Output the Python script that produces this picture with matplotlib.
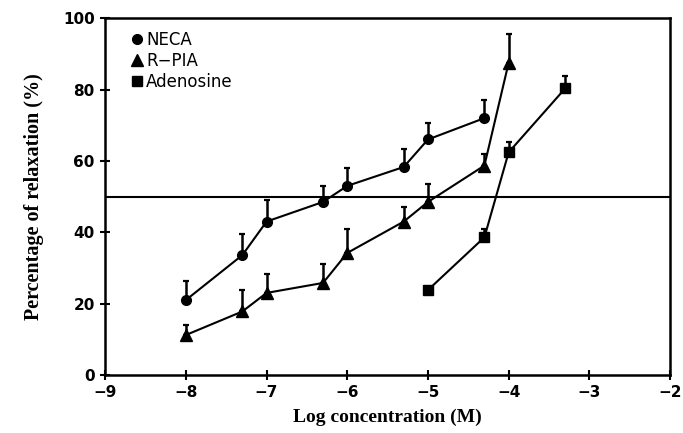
import numpy as np
import matplotlib
matplotlib.use("Agg")
import matplotlib.pyplot as plt

# data
neca_x = [-8, -7.3, -7, -6.3, -6, -5.3, -5, -4.3]
neca_y = [21, 33.6, 43, 48.5, 53, 58.3, 66, 72]
neca_err = [5.3, 5.8, 6, 4.5, 5, 5, 4.5, 5]

rpia_x = [-8, -7.3, -7, -6.3, -6, -5.3, -5, -4.3, -4]
rpia_y = [11.2, 17.8, 23, 25.8, 34.2, 43, 48.5, 58.7, 87.5]
rpia_err = [2.8, 6, 5.3, 5.2, 6.6, 4, 5, 3.3, 8]

aden_x = [-5, -4.3, -4, -3.3]
aden_y = [23.8, 38.6, 62.4, 80.3]
aden_err = [0, 2.4, 2.8, 3.6]

fig = plt.figure(figsize=(6.83, 4.33), dpi=100)
ax = fig.add_axes([0.154, 0.134, 0.827, 0.824])

def plot_series(x, y, err, marker, ms, label):
    low = np.zeros(len(err))
    ax.errorbar(x, y, yerr=[low, err], fmt='none', ecolor='black',
                elinewidth=1.8, capsize=2.5, capthick=1.6, zorder=2)
    ax.plot(x, y, color='black', lw=1.5, marker=marker, ms=ms,
            markerfacecolor='black', markeredgecolor='black', zorder=3,
            label=label)

plot_series(neca_x, neca_y, neca_err, 'o', 7, 'NECA')
plot_series(rpia_x, rpia_y, rpia_err, '^', 8, 'R\u2212PIA')
plot_series(aden_x, aden_y, aden_err, 's', 6.5, 'Adenosine')

ax.axhline(50, color='black', lw=1.5, zorder=1)

ax.set_xlim(-9, -2)
ax.set_ylim(0, 100)
ax.set_xticks([-9, -8, -7, -6, -5, -4, -3, -2])
ax.set_yticks([0, 20, 40, 60, 80, 100])
ax.set_xticklabels(['\u22129', '\u22128', '\u22127', '\u22126', '\u22125',
                    '\u22124', '\u22123', '\u22122'])
for lab in ax.get_xticklabels() + ax.get_yticklabels():
    lab.set_fontweight('bold')
    lab.set_fontsize(11)
ax.tick_params(direction='inout', length=7, width=1.5, pad=4)

for s in ax.spines.values():
    s.set_linewidth(1.8)

ax.set_xlabel('Log concentration (M)', fontsize=14, fontweight='bold',
              family='Liberation Serif', labelpad=6)
ax.set_ylabel('Percentage of relaxation (%)', fontsize=14.5, fontweight='bold',
              family='Liberation Serif', labelpad=14)

leg = ax.legend(loc='upper left', frameon=False, handlelength=0.6,
                handletextpad=0.25, labelspacing=0.2, fontsize=12,
                borderaxespad=0.6, bbox_to_anchor=(0.018, 1.012))
for h in leg.legend_handles:
    h.set_linestyle('none')

fig.savefig('out.png', dpi=100)
